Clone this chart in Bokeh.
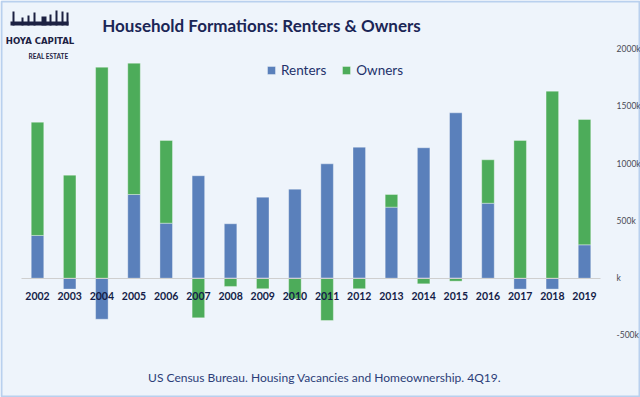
import numpy as np
from bokeh.plotting import figure
from bokeh.models import (ColumnDataSource, Range1d, FixedTicker,
                          CustomJSTickFormatter, Legend, LegendItem, Label, BoxAnnotation)
from bokeh.embed import file_html
from bokeh.resources import INLINE

# ---------------- data (thousands of households) ----------------
years = [str(y) for y in range(2002, 2020)]
renters = [373, -95, -358, 730, 480, 894, 475, 707, 777, 998, 1143, 620, 1138, 1443, 654, -95, -95, 291]
owners = [988, 899, 1841, 1146, 722, -346, -72, -92, -180, -369, -92, 110, -49, -26, 379, 1202, 1632, 1094]
y_ticks = [-500, 0, 500, 1000, 1500, 2000]

# ---------------- styling ----------------
W, H = 640, 397
FONT = "Lato"
BG = "#EEF4FB"
NAVY = "#1b2656"
BLUE = "#5a80bb"
GREEN = "#4dac5a"

# stack positives upward and negatives downward from zero
r = np.array(renters, dtype=float)
o = np.array(owners, dtype=float)
xc = np.arange(len(years)) + 0.5
o_bottom = np.where(np.sign(o) == np.sign(r), r, 0.0)
src = ColumnDataSource(dict(x=xc, year=years, r_bottom=np.zeros_like(r), r_top=r,
                            o_bottom=o_bottom, o_top=o_bottom + o))

# frame covers the whole canvas; axes sit at fixed locations inside it
p = figure(x_range=Range1d(-0.65, 19.24), y_range=Range1d(-1041, 2423),
           width=W, height=H, output_backend="svg", toolbar_location=None,
           y_axis_location="right", min_border=0,
           min_border_left=0, min_border_right=0, min_border_top=0, min_border_bottom=0)
p.title.visible = False
p.background_fill_color = BG
p.border_fill_color = BG
p.outline_line_color = None
p.grid.visible = False

rr = p.vbar(x="x", bottom="r_bottom", top="r_top", width=0.39, source=src,
            fill_color=BLUE, line_color="#ffffff", line_alpha=0.35, line_width=1)
orr = p.vbar(x="x", bottom="o_bottom", top="o_top", width=0.39, source=src,
             fill_color=GREEN, line_color="#ffffff", line_alpha=0.35, line_width=1)

# x axis along zero
xa = p.xaxis[0]
xa.fixed_location = 0
xa.bounds = (0, len(years))
xa.ticker = FixedTicker(ticks=list(xc))
xa.formatter = CustomJSTickFormatter(args=dict(years=years),
                                     code="return years[Math.floor(tick)];")
xa.axis_line_color = "#cfcfcf"
xa.axis_line_width = 1
xa.major_tick_line_color = None
xa.minor_tick_line_color = None
xa.major_label_standoff = 8
xa.major_label_text_font = FONT
xa.major_label_text_font_style = "bold"
xa.major_label_text_font_size = "10.5px"
xa.major_label_text_color = "#141d48"

# y axis on the right of the bars
ya = p.yaxis[0]
ya.fixed_location = len(years)
ya.ticker = FixedTicker(ticks=y_ticks)
ya.formatter = CustomJSTickFormatter(code="return tick == 0 ? 'k' : tick + 'k';")
ya.axis_line_color = None
ya.major_tick_line_color = None
ya.minor_tick_line_color = None
ya.major_label_standoff = 10
ya.major_label_text_font = FONT
ya.major_label_text_font_size = "8.5px"
ya.major_label_text_color = "#4a4a55"

legend = Legend(items=[LegendItem(label="Renters", renderers=[rr]),
                       LegendItem(label="Owners", renderers=[orr])],
                orientation="horizontal", location=(266, 319),
                background_fill_alpha=0, border_line_color=None,
                glyph_width=10, glyph_height=10, label_height=16,
                label_standoff=5, spacing=15, padding=0, margin=0,
                label_text_font=FONT, label_text_font_size="13.5px",
                label_text_color="#22316a")
p.add_layout(legend)

# title and source
p.add_layout(Label(x=261, y=25, x_units="canvas", y_units="canvas",
                   text="Household Formations: Renters & Owners", text_align="center",
                   text_baseline="middle", text_font=FONT, text_font_style="bold",
                   text_font_size="17px", text_color=NAVY))
p.add_layout(Label(x=324, y=377, x_units="canvas", y_units="canvas",
                   text="US Census Bureau. Housing Vacancies and Homeownership. 4Q19.",
                   text_align="center", text_baseline="middle", text_font=FONT,
                   text_font_size="12px", text_color="#2c3d78"))

# logo
LOGO = "#1c2142"
p.add_layout(Label(x=39.5, y=40, x_units="canvas", y_units="canvas",
                   text="HOYA CAPITAL", text_align="center", text_baseline="middle",
                   text_font="DejaVu Sans Condensed", text_font_style="bold",
                   text_font_size="9.5px", text_color=LOGO))
p.add_layout(Label(x=48, y=56, x_units="canvas", y_units="canvas",
                   text="REAL ESTATE", text_align="center", text_baseline="middle",
                   text_font=FONT, text_font_style="bold", text_font_size="6.5px",
                   text_color=LOGO))
for l, rgt, t in [(10, 68, 21), (12, 14, 11), (21, 23, 17), (27, 29, 15), (33, 35, 12),
                  (41, 46, 16), (49, 51, 14), (55, 57, 10), (61, 63, 11), (66, 68, 12)]:
    p.add_layout(BoxAnnotation(left=l, right=rgt, top=t, bottom=25,
                               left_units="canvas", right_units="canvas",
                               top_units="canvas", bottom_units="canvas",
                               fill_color=LOGO, fill_alpha=1, line_color=None))

# outer border
p.add_layout(BoxAnnotation(left=1, right=W - 1, top=1, bottom=H - 1,
                           left_units="canvas", right_units="canvas",
                           top_units="canvas", bottom_units="canvas",
                           fill_alpha=0, line_color="#3f7fd0", line_width=2))

open("out.html", "w").write(file_html(p, INLINE))
